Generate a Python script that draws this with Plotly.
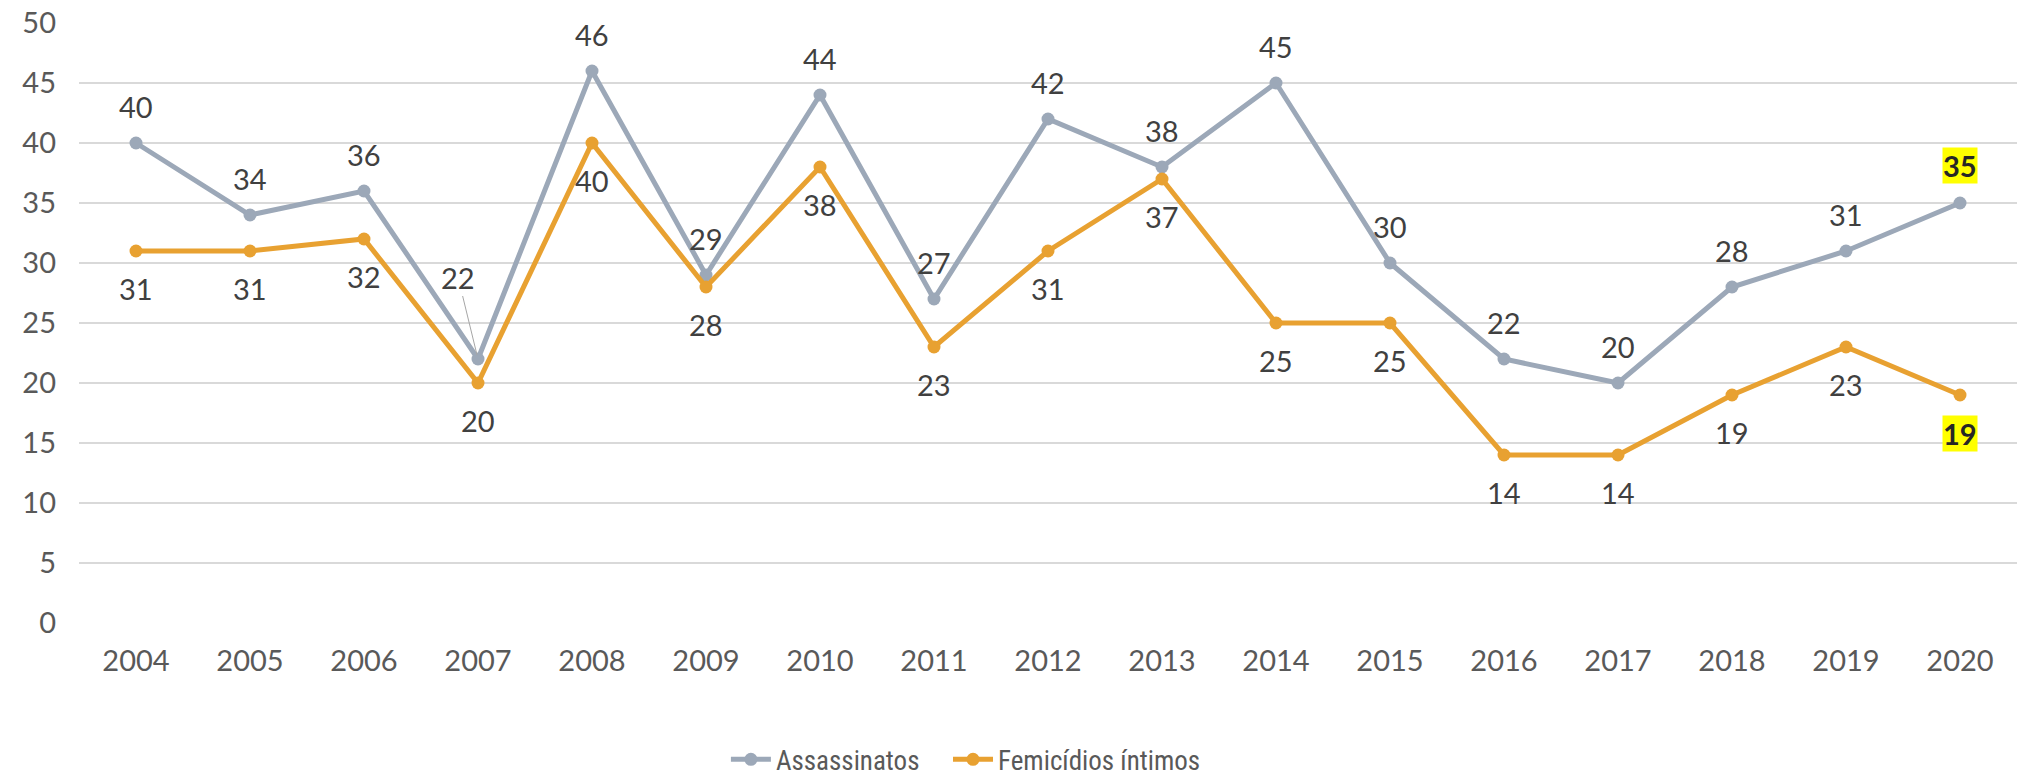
import plotly.graph_objects as go

anos = [str(a) for a in range(2004, 2021)]
assassinatos = [40, 34, 36, 22, 46, 29, 44, 27, 42, 38, 45, 30, 22, 20, 28, 31, 35]
femicidios = [31, 31, 32, 20, 40, 28, 38, 23, 31, 37, 25, 25, 14, 14, 19, 23, 19]
y_ticks = list(range(0, 51, 5))

COR_ASS = "#9CA8B8"
COR_FEM = "#E8A131"
FONTE = "Lato, 'Open Sans', sans-serif"
FONTE_LEG = "'Liberation Sans Narrow', 'Roboto Condensed', Lato, sans-serif"
TAM = 29

fig = go.Figure()

fig.add_trace(go.Scatter(
    x=anos, y=assassinatos, name="Assassinatos",
    mode="lines+markers",
    line=dict(color=COR_ASS, width=5),
    marker=dict(color=COR_ASS, size=13),
    legend="legend",
))
fig.add_trace(go.Scatter(
    x=anos, y=femicidios, name="Femicídios íntimos",
    mode="lines+markers",
    line=dict(color=COR_FEM, width=5),
    marker=dict(color=COR_FEM, size=13),
    legend="legend2",
))

# rótulos de dados (x como índice da categoria)
anotacoes = []
ultimo = len(anos) - 1
for i, v in enumerate(assassinatos):
    if i == ultimo:
        anotacoes.append(dict(x=i, y=v, text="<b>%d</b>" % v, showarrow=False,
                              yshift=38, bgcolor="#FFFF00", borderpad=0,
                              font=dict(size=TAM, color="#262626", family=FONTE)))
    elif anos[i] == "2007":
        anotacoes.append(dict(x=i, y=v, text=str(v), showarrow=True,
                              arrowhead=0, arrowwidth=1, arrowcolor="#A6A6A6",
                              ax=-20, ay=-82, standoff=4,
                              font=dict(size=TAM, color="#404040", family=FONTE)))
    else:
        anotacoes.append(dict(x=i, y=v, text=str(v), showarrow=False, yshift=37,
                              font=dict(size=TAM, color="#404040", family=FONTE)))
for i, v in enumerate(femicidios):
    if i == ultimo:
        anotacoes.append(dict(x=i, y=v, text="<b>%d</b>" % v, showarrow=False,
                              yshift=-38, bgcolor="#FFFF00", borderpad=0,
                              font=dict(size=TAM, color="#262626", family=FONTE)))
    else:
        anotacoes.append(dict(x=i, y=v, text=str(v), showarrow=False, yshift=-37,
                              font=dict(size=TAM, color="#404040", family=FONTE)))

legenda = dict(orientation="h", xanchor="left", y=-0.228, yanchor="middle",
               font=dict(family=FONTE_LEG, size=27, color="#595959"), itemwidth=40)

fig.update_layout(
    width=2027, height=776,
    margin=dict(l=71, r=18, t=15, b=161, autoexpand=False),
    plot_bgcolor="white", paper_bgcolor="white",
    font=dict(family=FONTE, size=TAM, color="#595959"),
    annotations=anotacoes,
    showlegend=True,
    legend=dict(legenda, x=0.3338),
    legend2=dict(legenda, x=0.4484),
    xaxis=dict(
        type="category", range=[-0.5, len(anos) - 0.5], automargin=False,
        showgrid=False, zeroline=False, showline=False,
        ticks="", ticklabelstandoff=18, tickfont=dict(size=TAM, color="#595959"),
    ),
    yaxis=dict(
        range=[0, 50], tickvals=y_ticks, showgrid=True, gridcolor="#D9D9D9",
        gridwidth=1.5, zeroline=False, showline=False, ticks="", automargin=False,
        ticklabeloverflow="allow",
        ticklabelstandoff=22, tickfont=dict(size=TAM, color="#595959"),
    ),
)

fig.write_html("out.html")
